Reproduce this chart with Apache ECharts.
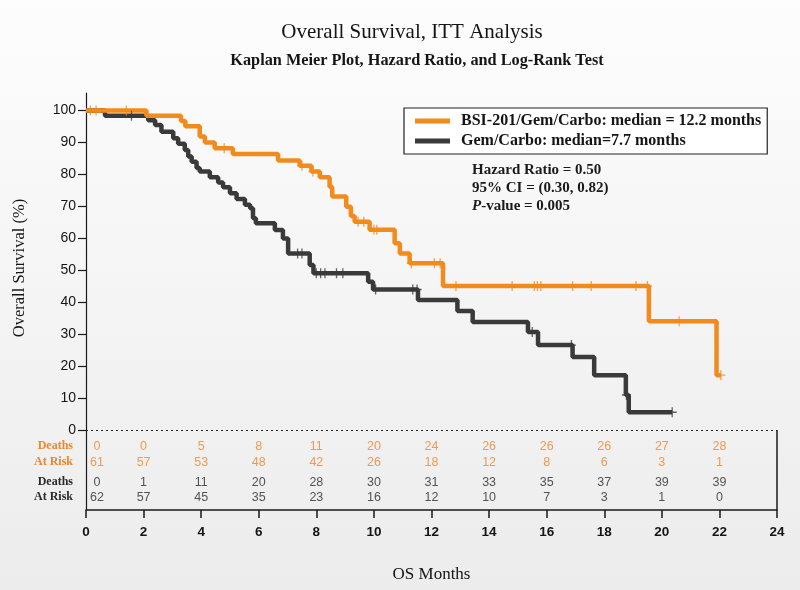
<!DOCTYPE html>
<html>
<head>
<meta charset="utf-8">
<script src="https://cdn.jsdelivr.net/npm/echarts@6/dist/echarts.min.js"></script>
<style>
html,body{margin:0;padding:0;}
#c{width:800px;height:590px;background:linear-gradient(#fdfdfd,#ececec);}
</style>
</head>
<body>
<div id="c"></div>
<script>
// ---------------- DATA ----------------
const bsiName = 'BSI-201/Gem/Carbo: median = 12.2 months';
const gcName = 'Gem/Carbo: median=7.7 months';

// Kaplan-Meier step points [month, survival %]
const bsiSteps = [
  [0,100],[2.1,98.4],[3.3,96.7],[3.45,95.1],[3.95,91.9],[4.13,90.0],[4.47,88.2],
  [5.1,86.4],[6.67,84.4],[7.42,82.7],[7.83,80.9],[8.12,79.1],[8.46,76.2],[8.55,73.1],
  [9.04,69.9],[9.2,67.0],[9.33,65.2],[9.85,62.7],[10.72,58.5],[10.9,55.3],[11.24,52.2],
  [12.4,45.1],[19.55,34.1],[21.9,17.2],[22.05,17.2]
];
const gcSteps = [
  [0,100],[0.66,98.4],[2.16,97.0],[2.4,95.5],[2.62,93.4],[3.03,91.3],[3.2,89.6],
  [3.43,87.7],[3.55,85.6],[3.67,84.0],[3.84,82.0],[3.95,80.9],[4.3,79.1],[4.59,77.5],
  [4.76,76.0],[5.0,74.1],[5.23,72.3],[5.52,70.5],[5.7,69.4],[5.8,66.3],[5.9,64.7],
  [6.56,62.6],[6.84,60.0],[7.02,55.3],[7.77,51.7],[7.9,49.1],[9.8,46.4],[9.97,44.0],
  [11.53,40.7],[12.9,37.3],[13.43,33.8],[15.35,30.7],[15.7,26.6],[16.9,22.9],
  [17.65,17.2],[18.75,11.0],[18.85,5.6],[20.36,5.6]
];

// censored observation times (months)
const bsiCensor = [0.15,0.35,1.4,4.8,7.5,7.88,9.45,9.65,10.0,10.1,11.3,12.1,12.3,12.85,
  14.8,15.57,15.68,15.8,16.9,17.55,19.1,19.5,20.6,22.05];
const gcCensor = [1.58,7.35,7.5,8.0,8.15,8.3,8.7,8.92,10.06,11.35,11.5,15.5,16.86,18.77,20.36];

// number-at-risk table
const riskTimes = [0,2,4,6,8,10,12,14,16,18,20,22];
const bsiDeaths = [0,0,5,8,11,20,24,26,26,26,27,28];
const bsiAtRisk = [61,57,53,48,42,26,18,12,8,6,3,1];
const gcDeaths  = [0,1,11,20,28,30,31,33,35,37,39,39];
const gcAtRisk  = [62,57,45,35,23,16,12,10,7,3,1,0];

const yTickValues = [0,10,20,30,40,50,60,70,80,90,100];

const statLines = ['Hazard Ratio = 0.50', '95% CI = (0.30, 0.82)', 'P-value = 0.005'];

// ---------------- STYLE ----------------
const ORANGE = '#f28a1c';
const DARK = '#3a3a3a';
const ORANGE_TXT = '#f0862a';
const SERIF = '"Liberation Serif","Times New Roman",serif';
const SANS = '"Liberation Sans",Arial,sans-serif';

function stepAt(steps, t) {
  let v = steps[0][1];
  for (const s of steps) { if (s[0] <= t) v = s[1]; else break; }
  return v;
}
const crossPath = 'path://M4.3,0 L5.7,0 L5.7,10 L4.3,10 Z M0,4.3 L10,4.3 L10,5.7 L0,5.7 Z';

function riskSeries(values, rowY, color) {
  return {
    type: 'scatter', silent: true, symbol: 'circle', symbolSize: 1,
    itemStyle: { color: 'rgba(0,0,0,0)' },
    label: { show: true, position: 'inside', color: color, fontFamily: SANS, fontSize: 12.5,
      formatter: p => String(p.value[2]) },
    data: riskTimes.map((t, i) => ({
      value: [t, rowY, values[i]],
      label: i === 0 ? { offset: [11, 0] } : {}
    })),
    z: 5
  };
}

const chart = echarts.init(document.getElementById('c'), null, { renderer: 'canvas' });

const option = {
  backgroundColor: 'transparent',
  animation: false,
  grid: { left: 86, right: 23, top: 93, bottom: 80 },
  legend: {
    data: [bsiName, gcName],
    orient: 'vertical', left: 404, top: 108,
    icon: 'rect', itemWidth: 35, itemHeight: 5, itemGap: 4,
    borderColor: '#222', borderWidth: 1.2, backgroundColor: '#ffffff',
    padding: [5, 6, 5, 11],
    textStyle: { fontFamily: SERIF, fontSize: 16, fontWeight: 'bold', color: '#151515', padding: [0,0,0,6] }
  },
  xAxis: {
    type: 'value', min: 0, max: 24, interval: 2,
    name: 'OS Months', nameLocation: 'middle', nameGap: 56,
    nameTextStyle: { fontFamily: SERIF, fontSize: 17, color: '#151515' },
    axisLine: { show: true, onZero: false, lineStyle: { color: '#1a1a1a', width: 1.5 } },
    axisTick: { show: true, length: 8, lineStyle: { color: '#1a1a1a', width: 1.5 } },
    axisLabel: { margin: 15, fontFamily: '"Liberation Sans Narrow","Liberation Sans",sans-serif', fontWeight: 'bold', fontSize: 13.5, color: '#151515' },
    splitLine: { show: false }
  },
  yAxis: {
    type: 'value', min: -25, max: 105.5,
    axisLine: { show: true, onZero: false, lineStyle: { color: '#1a1a1a', width: 1.2 } },
    axisTick: { show: true, length: 8, customValues: yTickValues, lineStyle: { color: '#1a1a1a', width: 1.2 } },
    axisLabel: { margin: 10, customValues: yTickValues, fontFamily: SANS, fontSize: 14, color: '#151515' },
    splitLine: { show: false }
  },
  graphic: [
    { type: 'text', x: 412, y: 32, style: { text: 'Overall Survival, ITT Analysis', font: '21px ' + SERIF, fill: '#151515', textAlign: 'center', textVerticalAlign: 'middle' } },
    { type: 'text', x: 417, y: 61, style: { text: 'Kaplan Meier Plot, Hazard Ratio, and Log-Rank Test', font: 'bold 16.3px ' + SERIF, fill: '#151515', textAlign: 'center', textVerticalAlign: 'middle' } },
    { type: 'text', x: 20, y: 268, rotation: Math.PI / 2, style: { text: 'Overall Survival (%)', font: '16.5px ' + SERIF, fill: '#151515', textAlign: 'center', textVerticalAlign: 'middle' } },
    { type: 'text', x: 472, y: 170, style: { text: statLines[0], font: 'bold 15px ' + SERIF, fill: '#1a1a1a', textVerticalAlign: 'middle' } },
    { type: 'text', x: 472, y: 188, style: { text: statLines[1], font: 'bold 15px ' + SERIF, fill: '#1a1a1a', textVerticalAlign: 'middle' } },
    { type: 'text', x: 472, y: 206, style: {
        text: '{i|P}{n|' + statLines[2].slice(1) + '}', textVerticalAlign: 'middle',
        rich: { i: { font: 'italic bold 15px ' + SERIF, fill: '#1a1a1a' }, n: { font: 'bold 15px ' + SERIF, fill: '#1a1a1a' } } } },
    { type: 'text', x: 73, y: 446, style: { text: 'Deaths', font: 'bold 12px ' + SERIF, fill: ORANGE_TXT, textAlign: 'right', textVerticalAlign: 'middle' } },
    { type: 'text', x: 73, y: 462, style: { text: 'At Risk', font: 'bold 12px ' + SERIF, fill: ORANGE_TXT, textAlign: 'right', textVerticalAlign: 'middle' } },
    { type: 'text', x: 73, y: 482, style: { text: 'Deaths', font: 'bold 12px ' + SERIF, fill: '#2a2a2a', textAlign: 'right', textVerticalAlign: 'middle' } },
    { type: 'text', x: 73, y: 497, style: { text: 'At Risk', font: 'bold 12px ' + SERIF, fill: '#2a2a2a', textAlign: 'right', textVerticalAlign: 'middle' } }
  ],
  series: [
    {
      name: 'ref', type: 'line', data: [], silent: true,
      markLine: {
        silent: true, symbol: 'none', label: { show: false },
        data: [
          { yAxis: 0, lineStyle: { type: [2, 3], color: '#222', width: 1.2 } },
          [ { coord: [24, 0], lineStyle: { type: 'solid', color: '#1a1a1a', width: 1.5 } }, { coord: [24, -25] } ]
        ]
      }
    },
    {
      name: gcName, type: 'line', step: 'end', data: gcSteps, color: DARK,
      showSymbol: false, lineStyle: { width: 4.5, color: DARK }, z: 2
    },
    {
      name: bsiName, type: 'line', step: 'end', data: bsiSteps, color: ORANGE,
      showSymbol: false, lineStyle: { width: 4.5, color: ORANGE }, z: 3
    },
    {
      name: 'gcCensor', type: 'scatter', symbol: crossPath, symbolSize: [9, 10],
      itemStyle: { color: DARK }, data: gcCensor.map(t => [t, stepAt(gcSteps, t)]), z: 4
    },
    {
      name: 'bsiCensor', type: 'scatter', symbol: crossPath, symbolSize: [9, 10],
      itemStyle: { color: ORANGE }, data: bsiCensor.map(t => [t, stepAt(bsiSteps, t)]), z: 4
    },
    riskSeries(bsiDeaths, -5.0, ORANGE_TXT),
    riskSeries(bsiAtRisk, -10.0, ORANGE_TXT),
    riskSeries(gcDeaths, -16.3, '#2a2a2a'),
    riskSeries(gcAtRisk, -21.0, '#2a2a2a')
  ]
};
chart.setOption(option);
</script>
</body>
</html>
